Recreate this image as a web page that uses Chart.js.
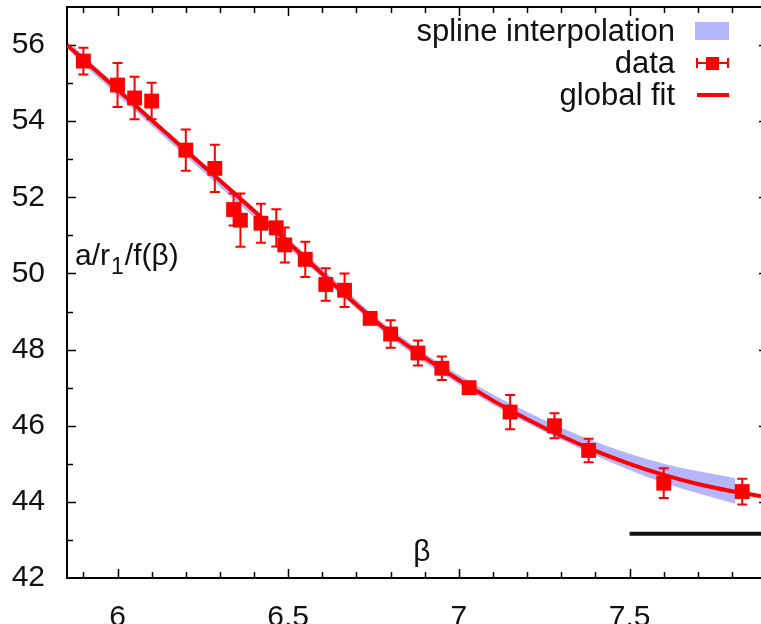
<!DOCTYPE html>
<html>
<head>
<meta charset="utf-8">
<script src="https://cdn.jsdelivr.net/npm/chart.js@4.4.1/dist/chart.umd.min.js"></script>
<style>
  body { margin: 0; background: #fff; overflow: hidden; }
</style>
</head>
<body>
<canvas id="myChart" width="761" height="624"></canvas>
<script>
// lattice data points
let beta = [5.9, 6.0, 6.05, 6.1, 6.2, 6.285, 6.34, 6.36, 6.42, 6.465, 6.49, 6.55, 6.61, 6.665, 6.74, 6.8, 6.88, 6.95, 7.03, 7.15, 7.28, 7.38, 7.6, 7.83];
let ratio = [55.58, 54.95, 54.61, 54.53, 53.24, 52.76, 51.68, 51.40, 51.32, 51.20, 50.75, 50.37, 49.71, 49.56, 48.82, 48.41, 47.91, 47.51, 47.00, 46.36, 46.00, 45.35, 44.49, 44.27];
let ratioErr = [0.35, 0.58, 0.56, 0.48, 0.54, 0.62, 0.42, 0.70, 0.51, 0.49, 0.46, 0.46, 0.43, 0.44, 0.15, 0.36, 0.33, 0.31, 0.12, 0.45, 0.33, 0.31, 0.39, 0.34];

// global fit curve
let fitBeta = [5.852, 6.0, 6.2, 6.4, 6.55, 6.7, 6.8, 6.9, 7.0, 7.1, 7.2, 7.3, 7.4, 7.5, 7.6, 7.7, 7.8, 7.885];
let fitVal = [56.00, 54.83, 53.23, 51.64, 50.40, 49.18, 48.43, 47.79, 47.20, 46.66, 46.17, 45.73, 45.34, 45.00, 44.71, 44.47, 44.28, 44.15];

// spline interpolation band
let bandBeta = [5.87, 6.0, 6.2, 6.4, 6.6, 6.8, 7.0, 7.2, 7.4, 7.6, 7.81];
let bandLow = [55.74, 54.68, 53.08, 51.48, 49.88, 48.31, 47.08, 46.07, 45.22, 44.50, 43.95];
let bandHigh = [55.98, 54.90, 53.30, 51.72, 50.12, 48.55, 47.33, 46.36, 45.58, 45.00, 44.62];

// black reference bar
let refBeta = [7.5, 7.9];
let refVal = [43.16, 43.16];

let xTicks = [6, 6.5, 7, 7.5];
let yTicks = [42, 44, 46, 48, 50, 52, 54, 56];

const FONT = "'Liberation Sans', Arial, Helvetica, sans-serif";
const RED = '#ff0000';
const BAND = 'rgba(168,168,250,0.85)';

const pts = (xs, ys) => xs.map((v, i) => ({ x: v, y: ys[i] }));

// frame with gnuplot style inward ticks (right border sits just off the canvas)
const framePlugin = {
  id: 'frame',
  beforeDatasetsDraw(chart) {
    const { ctx, chartArea: a, scales: { x, y } } = chart;
    const rightEdge = a.right + 7;
    ctx.save();
    ctx.strokeStyle = '#000';
    ctx.lineWidth = 2;
    ctx.beginPath();
    ctx.moveTo(rightEdge, a.top);
    ctx.lineTo(a.left, a.top);
    ctx.lineTo(a.left, a.bottom);
    ctx.lineTo(rightEdge, a.bottom);
    ctx.stroke();
    ctx.lineWidth = 1.5;
    ctx.beginPath();
    for (let k = 59; k <= 78; k++) {
      const px = Math.round(x.getPixelForValue(k / 10)) + 0.5;
      const len = k % 5 === 0 ? 9 : 6;
      ctx.moveTo(px, a.bottom); ctx.lineTo(px, a.bottom - len);
      ctx.moveTo(px, a.top); ctx.lineTo(px, a.top + len);
    }
    for (let k = 43; k <= 56; k++) {
      const py = Math.round(y.getPixelForValue(k)) + 0.5;
      const len = k % 2 === 0 ? 9 : 6;
      ctx.moveTo(a.left, py); ctx.lineTo(a.left + len, py);
      ctx.moveTo(rightEdge, py); ctx.lineTo(rightEdge - len, py);
    }
    ctx.stroke();
    ctx.restore();
  }
};

// vertical error bars for the data set
const errorPlugin = {
  id: 'errbars',
  afterDatasetsDraw(chart) {
    const { ctx, scales: { x, y } } = chart;
    ctx.save();
    ctx.strokeStyle = RED;
    ctx.lineWidth = 2;
    ctx.beginPath();
    beta.forEach((b, i) => {
      const px = x.getPixelForValue(b);
      const top = y.getPixelForValue(ratio[i] + ratioErr[i]);
      const bot = y.getPixelForValue(ratio[i] - ratioErr[i]);
      ctx.moveTo(px, top); ctx.lineTo(px, bot);
      ctx.moveTo(px - 5, top); ctx.lineTo(px + 5, top);
      ctx.moveTo(px - 5, bot); ctx.lineTo(px + 5, bot);
    });
    ctx.stroke();
    ctx.restore();
  }
};

// axis titles and key, drawn inside the plot like gnuplot
const labelPlugin = {
  id: 'labels',
  afterDraw(chart) {
    const { ctx } = chart;
    ctx.save();
    ctx.fillStyle = '#111';
    ctx.textBaseline = 'alphabetic';
    ctx.font = '30px ' + FONT;
    ctx.textAlign = 'left';
    let xx = 75;
    const base = 265;
    ctx.fillText('a/r', xx, base);
    xx += ctx.measureText('a/r').width;
    ctx.font = '23px ' + FONT;
    ctx.fillText('1', xx + 1, base + 9);
    xx += ctx.measureText('1').width + 2;
    ctx.font = '30px ' + FONT;
    ctx.fillText('/f(\u03b2)', xx, base);

    ctx.textAlign = 'center';
    ctx.fillText('\u03b2', 422, 561);

    // key
    const rows = [31, 63, 95];
    const labels = ['spline interpolation', 'data', 'global fit'];
    ctx.font = '31px ' + FONT;
    ctx.textAlign = 'right';
    ctx.textBaseline = 'middle';
    labels.forEach((t, i) => ctx.fillText(t, 675, rows[i] + 1));
    ctx.fillStyle = BAND;
    ctx.fillRect(695, rows[0] - 9, 34, 18);
    ctx.strokeStyle = RED;
    ctx.fillStyle = RED;
    ctx.lineWidth = 2;
    ctx.beginPath();
    ctx.moveTo(697, rows[1]); ctx.lineTo(728, rows[1]);
    ctx.moveTo(697, rows[1] - 5); ctx.lineTo(697, rows[1] + 5);
    ctx.moveTo(728, rows[1] - 5); ctx.lineTo(728, rows[1] + 5);
    ctx.stroke();
    ctx.fillRect(706, rows[1] - 6, 13, 13);
    ctx.lineWidth = 4;
    ctx.beginPath();
    ctx.moveTo(697, rows[2]); ctx.lineTo(729, rows[2]);
    ctx.stroke();
    ctx.restore();
  }
};

const noPad = (scale) => {
  scale.paddingTop = 0; scale.paddingBottom = 0;
  scale.paddingLeft = 0; scale.paddingRight = 0;
};

let ctx = document.getElementById('myChart').getContext('2d');

let myChart = new Chart(ctx, {
  type: 'scatter',
  data: {
    datasets: [
      {
        label: 'data',
        data: pts(beta, ratio),
        pointStyle: 'rect',
        pointRadius: 10.5,
        pointHoverRadius: 10.5,
        pointBackgroundColor: RED,
        pointBorderWidth: 0,
        showLine: false,
        order: 0
      },
      {
        label: 'global fit',
        data: pts(fitBeta, fitVal),
        showLine: true,
        borderColor: RED,
        borderWidth: 4,
        pointRadius: 0,
        cubicInterpolationMode: 'monotone',
        order: 1
      },
      {
        label: 'spline interpolation',
        data: pts(bandBeta, bandHigh),
        showLine: true,
        borderWidth: 0,
        borderColor: 'rgba(0,0,0,0)',
        backgroundColor: BAND,
        pointRadius: 0,
        fill: '+1',
        cubicInterpolationMode: 'monotone',
        order: 2
      },
      {
        label: 'band low',
        data: pts(bandBeta, bandLow),
        showLine: true,
        borderWidth: 0,
        borderColor: 'rgba(0,0,0,0)',
        pointRadius: 0,
        fill: false,
        cubicInterpolationMode: 'monotone',
        order: 3
      },
      {
        label: 'ref',
        data: pts(refBeta, refVal),
        showLine: true,
        borderColor: '#111',
        borderWidth: 4,
        pointRadius: 0,
        order: 4
      }
    ]
  },
  options: {
    responsive: false,
    animation: false,
    devicePixelRatio: 1,
    layout: { autoPadding: false, padding: { top: 7, left: 0, right: 0, bottom: 0 } },
    plugins: {
      legend: { display: false },
      tooltip: { enabled: false }
    },
    scales: {
      x: {
        type: 'linear',
        min: 5.852,
        max: 7.885,
        border: { display: false },
        grid: { display: false, drawTicks: false },
        afterFit: (scale) => { scale.height = 46; noPad(scale); },
        afterBuildTicks: (scale) => { scale.ticks = xTicks.map(v => ({ value: v })); },
        ticks: {
          padding: 22,
          color: '#111',
          font: { family: FONT, size: 30 },
          callback: (v) => String(v)
        }
      },
      y: {
        type: 'linear',
        min: 42,
        max: 57,
        border: { display: false },
        grid: { display: false, drawTicks: false },
        afterFit: (scale) => { scale.width = 67; noPad(scale); },
        afterBuildTicks: (scale) => { scale.ticks = yTicks.map(v => ({ value: v })); },
        ticks: {
          padding: 22,
          color: '#111',
          font: { family: FONT, size: 30 },
          callback: (v) => String(v)
        }
      }
    }
  },
  plugins: [framePlugin, errorPlugin, labelPlugin]
});
</script>
</body>
</html>
